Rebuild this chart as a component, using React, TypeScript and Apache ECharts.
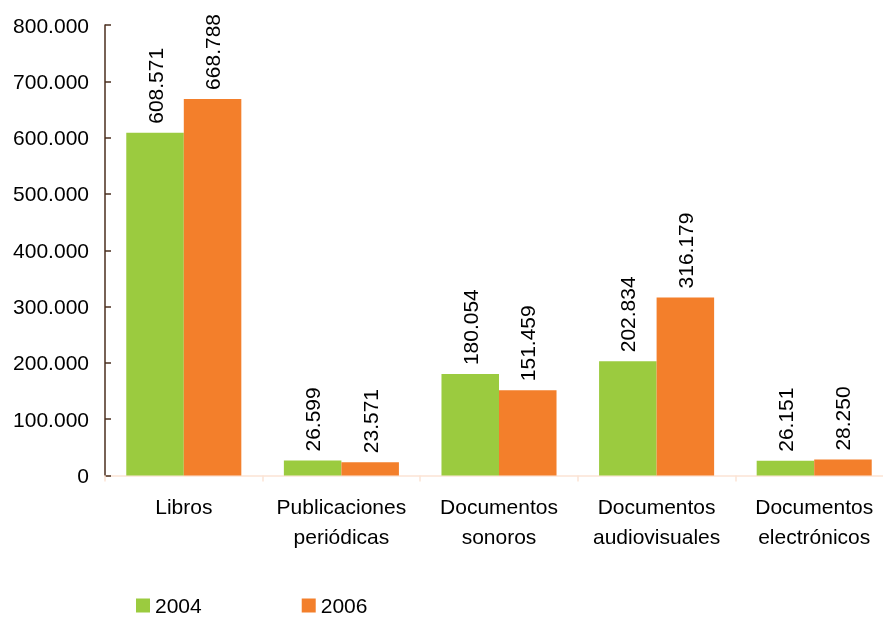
import React, { useEffect, useRef } from "react";
import * as echarts from "echarts";

const categories = [
  "Libros",
  "Publicaciones\nperiódicas",
  "Documentos\nsonoros",
  "Documentos\naudiovisuales",
  "Documentos\nelectrónicos",
];
const series2004 = [608571, 26599, 180054, 202834, 26151];
const series2006 = [668788, 23571, 151459, 316179, 28250];
const seriesNames = ["2004", "2006"];

const fmt = (v: number) => String(Math.round(v)).replace(/\B(?=(\d{3})+(?!\d))/g, ".");

const FONT = "'Liberation Sans', Arial, sans-serif";
const FS = 21;

export default function App() {
  const ref = useRef<HTMLDivElement>(null);
  useEffect(() => {
    if (!ref.current) return;
    const chart = echarts.init(ref.current, undefined, { renderer: "svg" });
    const labelCfg = {
      show: true,
      position: "top",
      rotate: 90,
      align: "left",
      verticalAlign: "middle",
      distance: 9,
      color: "#000",
      fontSize: FS,
      fontFamily: FONT,
      formatter: (p: any) => fmt(p.value),
    };
    chart.setOption({
      animation: false,
      textStyle: { fontFamily: FONT },
      grid: { left: 105, right: 7, top: 25, bottom: 141.5, containLabel: false },
      legend: {
        left: 136,
        top: 595,
        padding: 0,
        itemWidth: 14,
        itemHeight: 14,
        itemGap: 100,
        icon: "rect",
        textStyle: { fontSize: FS, color: "#000", fontFamily: FONT },
        data: seriesNames,
      },
      xAxis: {
        type: "category",
        data: categories,
        axisLine: { lineStyle: { color: "#FBE3D4", width: 1.5 } },
        axisTick: { show: true, length: 6, lineStyle: { color: "#FBE3D4", width: 1.5 } },
        axisLabel: {
          color: "#000",
          fontSize: FS,
          fontFamily: FONT,
          margin: 16,
          lineHeight: 30,
          interval: 0,
        },
      },
      yAxis: {
        type: "value",
        min: 0,
        max: 800000,
        interval: 100000,
        splitLine: { show: false },
        axisLine: { show: true, lineStyle: { color: "#4A2E1E", width: 1.5 } },
        axisTick: { show: true, inside: true, length: 6, lineStyle: { color: "#4A2E1E", width: 1.5 } },
        axisLabel: {
          color: "#000",
          fontSize: FS,
          fontFamily: FONT,
          margin: 16,
          formatter: (v: number) => fmt(v),
        },
      },
      series: [
        {
          name: seriesNames[0],
          type: "bar",
          data: series2004,
          itemStyle: { color: "#9BCB3F" },
          barGap: "0%",
          barCategoryGap: "27%",
          label: labelCfg,
        },
        {
          name: seriesNames[1],
          type: "bar",
          data: series2006,
          itemStyle: { color: "#F37F2B" },
          barGap: "0%",
          barCategoryGap: "27%",
          label: labelCfg,
        },
      ],
    });
    return () => chart.dispose();
  }, []);
  return (
    <div
      ref={ref}
      style={{ position: "fixed", left: 0, top: 0, width: 900, height: 617 }}
    />
  );
}
